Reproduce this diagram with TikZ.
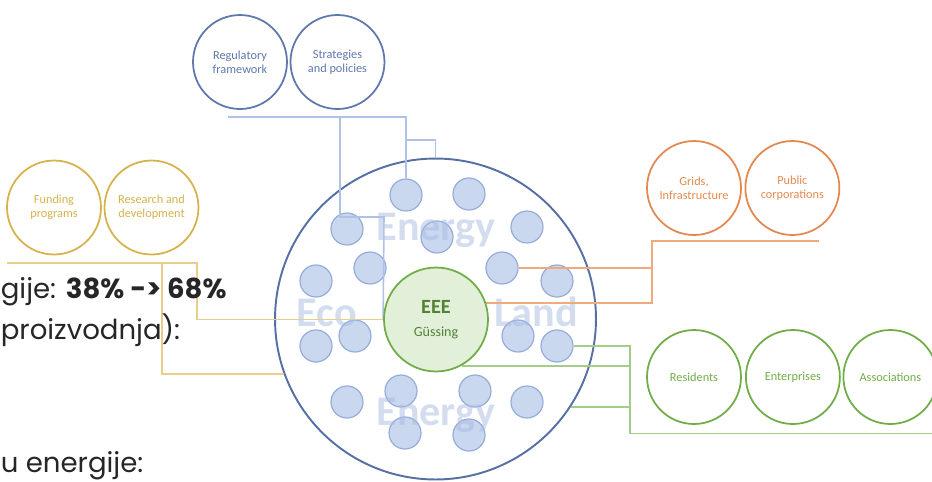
\documentclass[tikz,border=0pt]{standalone}
\usepackage{fontspec}
\setmainfont{Carlito}
\newfontfamily\slidefont{Poppins}
\usetikzlibrary{positioning, calc}
\pgfdeclarelayer{under}
\pgfdeclarelayer{links}
\pgfsetlayers{under,links,main}
\definecolor{ringblue}{HTML}{5670A6}
\definecolor{dotfill}{HTML}{C9D7EF}
\definecolor{dotdraw}{HTML}{98AEDA}
\definecolor{lineblue}{HTML}{AEC2E5}
\definecolor{markblue}{HTML}{A9BCE0}
\definecolor{satblue}{HTML}{5E78AE}
\definecolor{satgold}{HTML}{D6B24A}
\definecolor{linegold}{HTML}{E6CF8A}
\definecolor{satorange}{HTML}{E3894F}
\definecolor{lineorange}{HTML}{EFAA7E}
\definecolor{satgreen}{HTML}{70AD47}
\definecolor{linegreen}{HTML}{A5CD89}
\definecolor{eeefill}{HTML}{E2F0D9}
\definecolor{eeetext}{HTML}{548235}
\definecolor{slidetext}{HTML}{262626}

\begin{document}
\begin{tikzpicture}
		[x=0.02cm, y=-0.02cm,
		sat/.style={draw, circle, line width=1pt, minimum size=1.88cm, inner sep=0pt, align=center, font=\fontsize{7}{8}\selectfont},
		dot/.style={circle, draw=dotdraw, fill=dotfill, line width=0.7pt, minimum size=0.64cm, inner sep=0pt},
		conn/.style={line width=0.9pt},
		wm/.style={anchor=base, inner sep=0pt, text=markblue, text opacity=0.5, font=\bfseries\fontsize{24}{24}\selectfont},
		slide/.style={anchor=base west, inner sep=0pt, text=slidetext, font=\slidefont\fontsize{15.7}{19}\selectfont}]
		\useasboundingbox (0,0) rectangle (932,481);
	
		\node[slide] (rowA) at (0.5,298) {gije: \textbf{38\% -> 68\%}};
		\node[slide] (rowB) at (0.5,339) {proizvodnja):};
		\node[slide] (rowC) at (0.5,472) {u energije:};
	
		\node[sat, draw=satblue, text=satblue] (Reg) at (240,62) {Regulatory\\framework};
		\node[sat, draw=satblue, text=satblue, right=1pt of Reg] (Strat) {Strategies\\and policies};
		\node[sat, draw=satgold, text=satgold] (Fund) at (54,207.5) {Funding\\programs};
		\node[sat, draw=satgold, text=satgold, right=1pt of Fund] (Research) {Research and\\development};
		\node[sat, draw=satorange, text=satorange] (Grids) at (694,188) {Grids,\\Infrastructure};
		\node[sat, draw=satorange, text=satorange, right=1.5pt of Grids] (Public) {Public\\corporations};
		\node[sat, draw=satgreen, text=satgreen] (Resid) at (694,377) {Residents};
		\node[sat, draw=satgreen, text=satgreen, right=1.8pt of Resid] (Enter) {Enterprises};
		\node[sat, draw=satgreen, text=satgreen, right=1pt of Enter] (Assoc) {Associations};
	
		\node[circle, draw=satgreen, fill=eeefill, line width=1pt, minimum size=2.08cm, inner sep=0pt, align=center, text=eeetext] (eee) at (436,319.5) {{\bfseries\fontsize{11.5}{12}\selectfont EEE}\\[1pt]{\fontsize{8}{9}\selectfont Güssing}};
	
		\begin{pgfonlayer}{under}
		\node[circle, draw=ringblue, line width=1.1pt, minimum size=6.42cm] (ring) at (435.5,319) {};
		\node[dot] (s1) at (406,195) {};
		\node[dot] (s2) at (469,194) {};
		\node[dot] (s3) at (347,229) {};
		\node[dot] (s4) at (437,237) {};
		\node[dot] (s5) at (527,227) {};
		\node[dot] (s6) at (370,268) {};
		\node[dot] (s7) at (502,268) {};
		\node[dot] (s8) at (316,281) {};
		\node[dot] (s9) at (557,281) {};
		\node[dot] (s10) at (355,336) {};
		\node[dot] (s11) at (518,336) {};
		\node[dot] (s12) at (316,346) {};
		\node[dot] (s13) at (557,346) {};
		\node[dot] (s14) at (347,402) {};
		\node[dot] (s15) at (401,391) {};
		\node[dot] (s16) at (475,391) {};
		\node[dot] (s17) at (527,402) {};
		\node[dot] (s18) at (405,433) {};
		\node[dot] (s19) at (469,435) {};
		\node[wm] (wmTop) at (436,240) {Energy};
		\node[wm] (wmEco) at (327,326) {Eco};
		\node[wm] (wmLand) at (536,326) {Land};
		\node[wm] (wmBot) at (436,425) {Energy};
		\end{pgfonlayer}
	
		\begin{pgfonlayer}{links}
		\coordinate (bl) at (228,117);
		\coordinate (bj) at (340,117);
		\coordinate (br) at (406,117);
		\coordinate (bm) at (406,140);
		\coordinate (bk) at (384,217);
		\draw[conn, lineblue] (bl) -- (br) -- (s1.north);
		\draw[conn, lineblue] (bm) -| (ring.north);
		\draw[conn, lineblue] (bj) |- (bk) -- (eee.west);
	
		\coordinate (yl) at (7,263);
		\coordinate (yj) at (162,263);
		\coordinate (yr) at (197,263);
		\draw[conn, linegold] (yl) -- (yr) |- (eee.center);
		\draw[conn, linegold] (yj) |- (ring.200);
	
		\coordinate (ol) at (652,240.7);
		\coordinate (or) at (819,240.7);
		\draw[conn, lineorange] (or) -- (ol) |- (eee.18);
		\draw[conn, lineorange] (s7.east) -- (ol |- s7.east);
	
		\coordinate (gt) at (630,346);
		\coordinate (gb) at (630,433.3);
		\coordinate (ge) at (932,433.3);
		\draw[conn, linegreen] (s13.east) -| (gb) -- (ge);
		\draw[conn, linegreen] (eee.-61) -- (gt |- eee.-61);
		\draw[conn, linegreen] (ring.-33) -- (gt |- ring.-33);
		\end{pgfonlayer}
	\end{tikzpicture}
\end{document}
